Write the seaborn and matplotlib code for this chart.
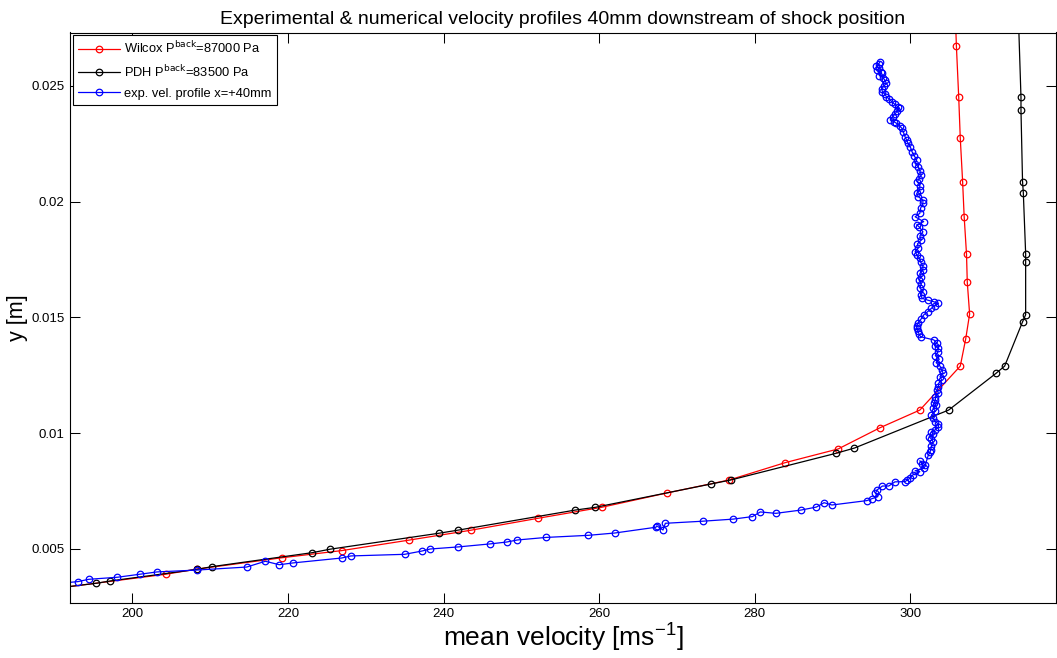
import matplotlib
matplotlib.use("Agg")
import matplotlib.pyplot as plt
import seaborn as sns
import pandas as pd
from matplotlib.ticker import FuncFormatter

# Wilcox k-omega simulation (velocity [m/s], y [m])
wilcox_v = [305.7, 305.9, 306.2, 306.4, 306.7, 306.9, 307.2, 307.3, 307.6, 307.1,
            306.4, 301.2, 296.1, 290.7, 283.9, 276.7, 268.7, 260.3, 252.2, 243.5,
            235.5, 226.9, 219.2, 208.3, 204.3, 190.0]
wilcox_y = [0.0287, 0.02673, 0.02451, 0.02274, 0.02087, 0.01935, 0.01774, 0.01652, 0.01515, 0.01408,
            0.0129, 0.0110, 0.01024, 0.00932, 0.00873, 0.00798, 0.00742, 0.0068, 0.00633, 0.00581,
            0.00538, 0.00493, 0.00462, 0.00413, 0.00391, 0.00329]

# PDH simulation
pdh_v = [313.8, 314.2, 314.2, 314.4, 314.5, 314.8, 314.8, 314.8, 314.4, 312.1,
         311.0, 304.9, 292.8, 290.4, 276.9, 274.4, 259.5, 256.9, 241.8, 239.4,
         225.4, 223.1, 210.3, 208.3, 197.2, 195.4, 190.0]
pdh_y = [0.0287, 0.02451, 0.02395, 0.02087, 0.02039, 0.01776, 0.01738, 0.01512, 0.01481, 0.0129,
         0.01259, 0.0110, 0.00936, 0.00913, 0.00798, 0.00781, 0.0068, 0.00668, 0.00581, 0.00568,
         0.00499, 0.00484, 0.00424, 0.00412, 0.00362, 0.00352, 0.0033]

# Measured profile at x = +40 mm
exp_v = [296.1, 295.9, 295.6, 296.0, 295.7, 296.2, 296.3, 296.0, 296.5, 296.7,
         296.9, 296.6, 296.3, 296.4, 296.7, 296.9, 297.3, 297.6, 298.0, 298.4,
         298.6, 298.3, 298.0, 297.7, 297.4, 297.9, 298.2, 298.6, 298.9, 299.1,
         299.3, 299.5, 299.7, 300.0, 300.2, 300.5, 300.8, 300.6, 301.0, 301.2,
         301.4, 301.1, 300.9, 301.2, 301.2, 300.8, 301.0, 301.6, 301.6, 301.3,
         301.2, 300.6, 301.7, 300.8, 301.1, 301.6, 301.2, 301.4, 300.9, 301.0,
         300.6, 300.8, 301.2, 301.3, 301.6, 301.6, 301.2, 301.4, 301.1, 301.4,
         301.2, 301.6, 301.3, 301.5, 302.2, 303.0, 303.6, 303.1, 302.7, 302.2,
         301.7, 301.4, 301.0, 300.8, 300.8, 301.0, 301.1, 301.3, 303.0, 303.4,
         303.1, 303.6, 303.5, 303.2, 303.7, 303.3, 303.8, 304.0, 304.2, 303.8,
         304.0, 303.6, 303.6, 303.4, 303.6, 303.2, 303.2, 303.0, 303.3, 302.9,
         303.2, 302.7, 302.9, 303.2, 303.6, 303.6, 303.2, 302.7, 302.9, 302.4,
         302.7, 302.9, 302.7, 302.6, 302.5, 302.3, 301.9, 301.2, 301.5, 301.8,
         300.6, 301.2, 300.3, 299.9, 299.6, 299.3, 298.0, 297.2, 296.4, 295.7,
         295.5, 295.8, 295.1, 294.4, 289.9, 288.9, 287.9, 285.9, 282.7, 280.7,
         279.7, 277.2, 273.3, 268.5, 268.2, 267.4, 267.3, 262.0, 258.6, 253.2,
         249.5, 248.1, 246.0, 241.9, 238.3, 237.2, 235.0, 228.1, 226.9, 220.7,
         218.9, 217.1, 214.7, 208.3, 203.2, 201.0, 198.1, 194.4, 193.0, 190.0]
exp_y = [0.02605, 0.02595, 0.02585, 0.02578, 0.02570, 0.02562, 0.02555, 0.02545, 0.02535, 0.02525,
         0.02512, 0.02500, 0.02488, 0.02475, 0.02465, 0.02454, 0.02443, 0.02432, 0.02420, 0.02410,
         0.02404, 0.02392, 0.02379, 0.02366, 0.02353, 0.02345, 0.02339, 0.02328, 0.02317, 0.02300,
         0.02281, 0.02266, 0.02252, 0.02235, 0.02216, 0.02198, 0.02180, 0.02165, 0.02151, 0.02133,
         0.02116, 0.02100, 0.02087, 0.02070, 0.02051, 0.02036, 0.02022, 0.02007, 0.01993, 0.01972,
         0.01950, 0.01935, 0.01914, 0.01900, 0.01892, 0.01870, 0.01852, 0.01835, 0.01818, 0.01800,
         0.01785, 0.01770, 0.01755, 0.01740, 0.01722, 0.01705, 0.01690, 0.01676, 0.01662, 0.01645,
         0.01628, 0.01612, 0.01597, 0.01583, 0.01575, 0.01568, 0.01561, 0.01550, 0.01540, 0.01525,
         0.01511, 0.01495, 0.01478, 0.01465, 0.01453, 0.01440, 0.01428, 0.01417, 0.01403, 0.01390,
         0.01378, 0.01367, 0.01350, 0.01335, 0.01320, 0.01305, 0.01290, 0.01275, 0.01259, 0.01245,
         0.01230, 0.01215, 0.01201, 0.01188, 0.01172, 0.01158, 0.01144, 0.01130, 0.01122, 0.01108,
         0.01095, 0.01079, 0.01065, 0.01050, 0.01040, 0.01028, 0.01015, 0.01007, 0.00995, 0.00985,
         0.00975, 0.00963, 0.00945, 0.00928, 0.00918, 0.00906, 0.00863, 0.00881, 0.00865, 0.00850,
         0.00838, 0.00834, 0.00820, 0.00805, 0.00798, 0.00791, 0.00790, 0.00772, 0.00772, 0.00755,
         0.00741, 0.00726, 0.00718, 0.00709, 0.00690, 0.00700, 0.00681, 0.00668, 0.00654, 0.00660,
         0.00640, 0.00629, 0.00620, 0.00611, 0.00582, 0.00600, 0.00594, 0.00569, 0.00559, 0.00550,
         0.00539, 0.00530, 0.00522, 0.00509, 0.00500, 0.00491, 0.00477, 0.00470, 0.00461, 0.00440,
         0.00432, 0.00447, 0.00422, 0.00409, 0.00401, 0.00391, 0.00378, 0.00369, 0.00359, 0.00350]

x_ticks = [200, 220, 240, 260, 280, 300]
y_ticks = [0.005, 0.01, 0.015, 0.02, 0.025]

labels = [r"Wilcox P$^{\mathrm{back}}$=87000 Pa",
          r"PDH P$^{\mathrm{back}}$=83500 Pa",
          "exp. vel. profile x=+40mm"]
colors = ["#ff0000", "#000000", "#0000ff"]

sns.set_style("white")
plt.rcParams["font.family"] = ["Liberation Sans", "DejaVu Sans"]
plt.rcParams["mathtext.default"] = "regular"
plt.rcParams["text.color"] = "black"
plt.rcParams["axes.labelcolor"] = "black"

fig = plt.figure(figsize=(10.57, 6.58), dpi=100)
ax = fig.add_axes([70 / 1057, 1 - 602.7 / 658, 986 / 1057, (602.7 - 32.5) / 658])

series = [(wilcox_v, wilcox_y), (pdh_v, pdh_y), (exp_v, exp_y)]
for (v, y), lab, col in zip(series, labels, colors):
    df = pd.DataFrame({"v": v, "y": y})
    sns.lineplot(data=df, x="v", y="y", sort=False, estimator=None, ax=ax,
                 color=col, linewidth=0.9, marker="o", markersize=4.7,
                 markerfacecolor="none", markeredgecolor=col, markeredgewidth=0.9,
                 label=lab)

ax.set_xlim(192, 318.7)
ax.set_ylim(0.00268, 0.02731)
ax.set_xticks(x_ticks)
ax.set_yticks(y_ticks)
ax.yaxis.set_major_formatter(FuncFormatter(lambda val, pos: f"{val:g}"))
ax.tick_params(direction="in", top=True, right=True, bottom=True, left=True,
               length=7, width=0.75, labelsize=9.5, colors="black", pad=4)
for s in ax.spines.values():
    s.set_color("black")
    s.set_linewidth(0.8)

ax.set_title("Experimental & numerical velocity profiles 40mm downstream of shock position",
             fontsize=14, pad=6, color="black")
ax.set_xlabel(r"mean velocity [ms$^{-1}$]", fontsize=19, labelpad=1, color="black")
ax.set_ylabel("y [m]", fontsize=15.5, labelpad=2, color="black")

leg = ax.legend(loc="upper left", fontsize=9.3, frameon=True, fancybox=False,
                framealpha=1, edgecolor="black", borderaxespad=0.2,
                handlelength=3.3, labelspacing=0.6, borderpad=0.4, handletextpad=0.3)
leg.get_frame().set_linewidth(0.8)
for t in leg.get_texts():
    t.set_color("black")

fig.savefig("out.png", dpi=100)
